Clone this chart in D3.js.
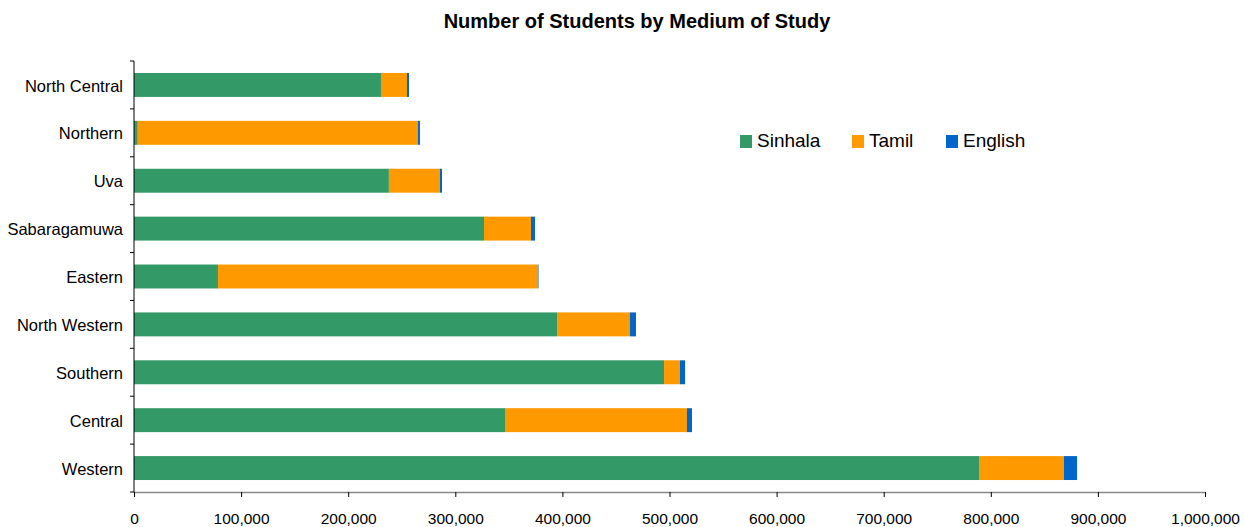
<!DOCTYPE html>
<html>
<head>
<meta charset="utf-8">
<script src="https://cdn.jsdelivr.net/npm/d3@7"></script>
<style>
  body { margin: 0; background: #fff; }
  svg { display: block; font-family: "Liberation Sans", Arial, sans-serif; }
</style>
</head>
<body>
<svg id="chart" width="1244" height="527"></svg>
<script>
const categories = ["North Central", "Northern", "Uva", "Sabaragamuwa", "Eastern", "North Western", "Southern", "Central", "Western"];
const seriesNames = ["Sinhala", "Tamil", "English"];
const sinhala = [230600, 3500, 238000, 326800, 78400, 395500, 494900, 346400, 789000];
const tamil   = [24300, 261700, 47700, 43900, 298800, 67500, 14900, 169900, 79300];
const english = [1900, 1800, 1900, 3700, 500, 5700, 4700, 4700, 12200];
const xTicks = [0, 100000, 200000, 300000, 400000, 500000, 600000, 700000, 800000, 900000, 1000000];
const colors = ["#339966", "#FF9900", "#0066CC"];

(function () {
const svg = d3.select("#chart");
const mLeft = 134, mRight = 1205, mTop = 61, mBottom = 492;

const rows = categories.map((c, i) => ({ cat: c, Sinhala: sinhala[i], Tamil: tamil[i], English: english[i] }));
const stack = d3.stack().keys(seriesNames)(rows);

const x = d3.scaleLinear().domain([0, 1000000]).range([mLeft, mRight]);
const y = d3.scaleBand().domain(categories).range([mTop, mBottom]).paddingInner(0.5).paddingOuter(0.25);

// Title
svg.append("text")
  .attr("x", 637).attr("y", 28)
  .attr("text-anchor", "middle")
  .attr("font-weight", "bold")
  .attr("font-size", 20)
  .attr("fill", "#000")
  .text("Number of Students by Medium of Study");

// Bars
svg.append("g").selectAll("g").data(stack).join("g")
  .attr("fill", (d, i) => colors[i])
  .selectAll("rect").data(d => d).join("rect")
  .attr("x", d => x(d[0]))
  .attr("width", d => x(d[1]) - x(d[0]))
  .attr("y", d => y(d.data.cat))
  .attr("height", y.bandwidth());

// X axis
const xAxis = svg.append("g").attr("transform", `translate(0,${mBottom})`)
  .call(d3.axisBottom(x).tickValues(xTicks).tickFormat(d3.format(",")).tickSize(5).tickSizeOuter(0).tickPadding(16));
xAxis.select(".domain").attr("stroke", "#888").attr("stroke-width", 1.5);
xAxis.selectAll(".tick line").attr("stroke", "#000");
xAxis.selectAll(".tick text").attr("font-size", 15.5).attr("fill", "#000").attr("font-family", "'Liberation Sans', Arial, sans-serif");

// Y axis: line with ticks at band boundaries
const yg = svg.append("g");
yg.append("line").attr("x1", mLeft).attr("x2", mLeft).attr("y1", mTop).attr("y2", mBottom).attr("stroke", "#000");
const step = y.step();
const boundaries = d3.range(categories.length + 1).map(i => mTop + i * step);
yg.selectAll("line.bt").data(boundaries).join("line").attr("class", "bt")
  .attr("x1", mLeft - 4).attr("x2", mLeft).attr("y1", d => d).attr("y2", d => d).attr("stroke", "#000");
yg.selectAll("text").data(categories).join("text")
  .attr("x", mLeft - 11)
  .attr("y", d => y(d) + y.bandwidth() / 2)
  .attr("dy", "0.4em")
  .attr("text-anchor", "end")
  .attr("font-size", 16.5)
  .attr("fill", "#000")
  .text(d => d);

// Legend
const legendX = [740, 852, 946];
const lg = svg.append("g");
seriesNames.forEach((s, i) => {
  lg.append("rect").attr("x", legendX[i]).attr("y", 135).attr("width", 12).attr("height", 13).attr("fill", colors[i]);
  lg.append("text").attr("x", legendX[i] + 17).attr("y", 147).attr("font-size", 19).attr("fill", "#000").text(s);
});
})();
</script>
</body>
</html>
